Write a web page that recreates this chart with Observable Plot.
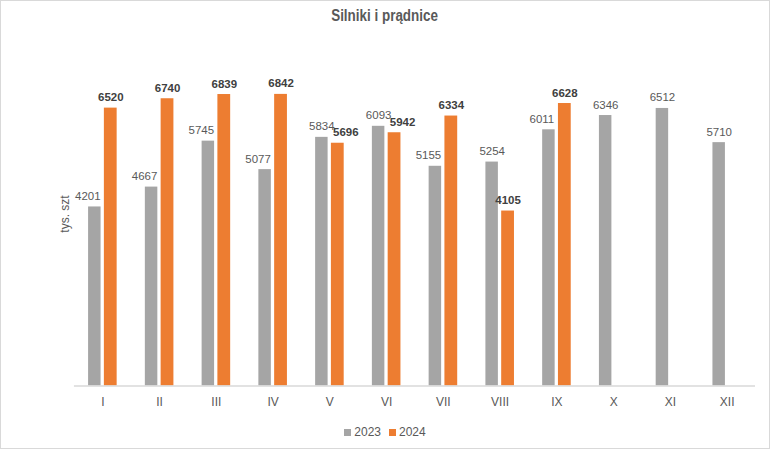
<!DOCTYPE html>
<html>
<head>
<meta charset="utf-8">
<script src="https://cdn.jsdelivr.net/npm/d3@7"></script>
<script src="https://cdn.jsdelivr.net/npm/@observablehq/plot@0.6"></script>
<style>
  html, body { margin: 0; padding: 0; background: #fff; }
  #wrap { position: relative; width: 770px; height: 449px; box-sizing: border-box; border: 1px solid #d9d9d9; overflow: hidden;
          font-family: "Liberation Sans", Arial, sans-serif; }
  #title { position: absolute; left: 0; top: 6px; width: 100%; text-align: center; }
  #title span { display: inline-block; font-size: 16px; font-weight: bold; color: #595959; transform: scaleX(0.84); }
  #chart { position: absolute; left: -1px; top: -1px; }
  #ylab { position: absolute; left: 64px; top: 213px; transform: translate(-50%, -50%) rotate(-90deg); font-size: 12px; color: #595959; white-space: nowrap; }
  #legend { position: absolute; left: 0; top: 424px; width: 100%; text-align: center; font-size: 12px; color: #595959; }
  #legend span.sw { display: inline-block; width: 7px; height: 7px; margin-right: 3px; vertical-align: 0px; }
  #legend span.it { margin: 0 4px; }
</style>
</head>
<body>
<div id="wrap">
  <div id="title"><span>Silniki i prądnice</span></div>
  <div id="chart"></div>
  <div id="ylab">tys. szt</div>
  <div id="legend"></div>
</div>
<script>
const months = ["I","II","III","IV","V","VI","VII","VIII","IX","X","XI","XII"];
const years = ["2023","2024"];
const values2023 = [4201,4667,5745,5077,5834,6093,5155,5254,6011,6346,6512,5710];
const values2024 = [6520,6740,6839,6842,5696,5942,6334,4105,6628,null,null,null];
const colors = ["#a5a5a5","#ed7d31"];

const data = [];
months.forEach((m, i) => {
  data.push({month: m, year: "2023", value: values2023[i], other: values2024[i]});
  if (values2024[i] != null) data.push({month: m, year: "2024", value: values2024[i], other: values2023[i]});
});
const d23 = data.filter(d => d.year === "2023");
const d24 = data.filter(d => d.year === "2024");

// label placement: avoid collisions like the original chart's labels
const grayShift = d => d.other != null && d.other > d.value;              // taller orange bar to the right
const orangeShift = d => d.other > d.value && d.other - d.value < 400;     // gray label close by on the left

const bandW = (755 - 73) / months.length;
const gIL = 14.2, bW = 12.5, oIL = 30, bWo = 12.8;
const gDx = gIL + bW / 2 - bandW / 2;
const oDx = oIL + bWo / 2 - bandW / 2;

const chart = Plot.plot({
  width: 770,
  height: 416,
  marginTop: 44.6,
  marginBottom: 30,
  marginLeft: 74,
  marginRight: 14,
  style: {fontFamily: '"Liberation Sans", Arial, sans-serif', fontSize: "12px", color: "#595959", background: "transparent"},
  x: {domain: months, padding: 0, round: false, label: null, tickSize: 0, tickPadding: 12},
  y: {domain: [0, 8000], axis: null},
  marks: [
    Plot.barY(d23, {x: "month", y: "value", fill: colors[0], insetLeft: gIL, insetRight: bandW - gIL - bW}),
    Plot.barY(d24, {x: "month", y: "value", fill: colors[1], insetLeft: oIL, insetRight: bandW - oIL - bWo}),
    Plot.ruleY([0], {stroke: "#d9d9d9", strokeWidth: 1.5}),
    Plot.text(d23.filter(d => !grayShift(d)), {x: "month", y: "value", text: d => String(d.value),
      lineAnchor: "bottom", dy: -7, dx: gDx, fill: "#595959", fontSize: 11.5}),
    Plot.text(d23.filter(grayShift), {x: "month", y: "value", text: d => String(d.value),
      lineAnchor: "bottom", dy: -7, dx: gDx - 7, fill: "#595959", fontSize: 11.5}),
    Plot.text(d24.filter(d => !orangeShift(d)), {x: "month", y: "value", text: d => String(d.value),
      lineAnchor: "bottom", dy: -7, dx: oDx, fill: "#404040", fontSize: 11.5, fontWeight: "bold"}),
    Plot.text(d24.filter(orangeShift), {x: "month", y: "value", text: d => String(d.value),
      lineAnchor: "bottom", dy: -7, dx: oDx + 8, fill: "#404040", fontSize: 11.5, fontWeight: "bold"})
  ]
});
document.getElementById("chart").appendChild(chart);

const legend = document.getElementById("legend");
years.forEach((y, i) => {
  const it = document.createElement("span");
  it.className = "it";
  it.innerHTML = `<span class="sw" style="background:${colors[i]}"></span>${y}`;
  legend.appendChild(it);
});
</script>
</body>
</html>
